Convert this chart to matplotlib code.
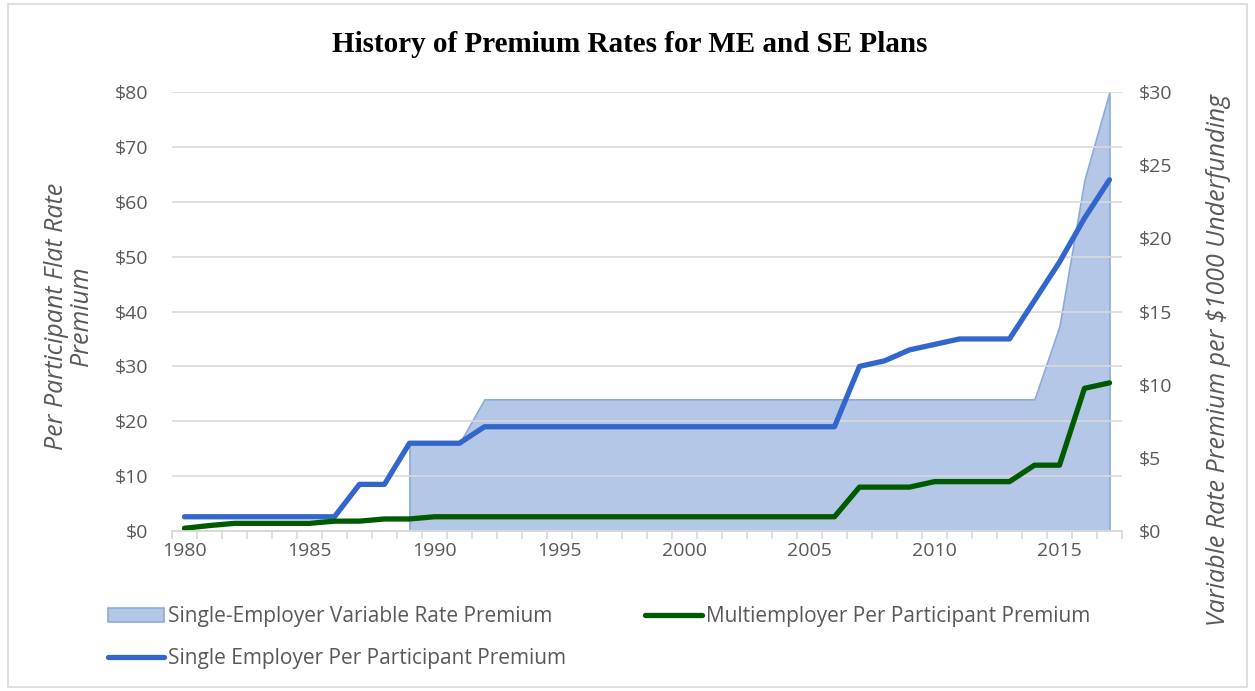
import numpy as np
import matplotlib.pyplot as plt
from matplotlib.patches import Rectangle

years = list(range(1980, 2018))

# single employer flat rate premium per participant ($)
se_flat = [2.6, 2.6, 2.6, 2.6, 2.6, 2.6, 2.6, 8.5, 8.5, 16, 16, 16, 19,
           19, 19, 19, 19, 19, 19, 19, 19, 19, 19, 19, 19, 19, 19,
           30, 31, 33, 34, 35, 35, 35, 42, 49, 57, 64]

# multiemployer flat rate premium per participant ($)
me_flat = [0.5, 1.0, 1.4, 1.4, 1.4, 1.4, 1.8, 1.8, 2.2, 2.2, 2.6, 2.6, 2.6,
           2.6, 2.6, 2.6, 2.6, 2.6, 2.6, 2.6, 2.6, 2.6, 2.6, 2.6, 2.6, 2.6, 2.6,
           8, 8, 8, 9, 9, 9, 9, 12, 12, 26, 27]

# single employer variable rate premium per $1000 underfunding (from 1989)
vrp_years = list(range(1989, 2018))
vrp = [6, 6, 6, 9, 9, 9, 9, 9, 9, 9, 9, 9, 9, 9, 9, 9, 9, 9, 9, 9, 9,
       9, 9, 9, 9, 9, 14, 24, 30]

gray = "#595959"
plt.rcParams["font.family"] = ["Open Sans", "DejaVu Sans"]

fig = plt.figure(figsize=(12.55, 6.91), dpi=100)
ax = fig.add_axes([0.137, 0.2315, 0.757, 0.6354])
ax2 = ax.twinx()

ax2.fill_between(vrp_years, vrp, 0, color="#B4C7E7", edgecolor="#8EA9DB",
                 linewidth=1.2, label="Single-Employer Variable Rate Premium")
ax2.set_ylim(0, 30)
ax2.set_yticks(range(0, 31, 5))
ax2.set_yticklabels(["$%d" % v for v in range(0, 31, 5)])

ax.set_zorder(ax2.get_zorder() + 1)
ax.patch.set_visible(False)
ax.plot(years, se_flat, color="#3366CC", lw=3.8, solid_capstyle="round",
        label="Single Employer Per Participant Premium")
ax.plot(years, me_flat, color="#005A00", lw=3.8, solid_capstyle="round",
        label="Multiemployer Per Participant Premium")
ax.set_ylim(0, 80)
ax.set_yticks(range(0, 81, 10))
ax.set_yticklabels(["$%d" % v for v in range(0, 81, 10)])
ax.yaxis.grid(True, color="#D9D9D9", lw=1.2)
ax.set_axisbelow(True)

ax.set_xlim(1979.5, 2017.5)
ax.set_xticks(range(1980, 2018, 5))
ax.set_xticks(np.arange(1979.5, 2018, 1), minor=True)
ax.tick_params(axis="x", which="major", length=0, pad=8)
ax.tick_params(axis="x", which="minor", length=6, color="#D9D9D9", width=1.2)

for a in (ax, ax2):
    for s in ("top", "left", "right"):
        a.spines[s].set_visible(False)
    a.spines["bottom"].set_color("#D9D9D9")
    a.spines["bottom"].set_linewidth(1.2)
    a.tick_params(axis="x", labelsize=14, colors=gray)
ax.tick_params(axis="y", length=0, labelsize=14, colors=gray, pad=17)
ax2.tick_params(axis="y", length=0, labelsize=14, colors=gray, pad=12)

ax.set_ylabel("Per Participant Flat Rate\nPremium", fontsize=18, color=gray,
              style="italic", linespacing=1.0)
ax.yaxis.set_label_coords(-0.082, 0.49)
ax2.set_ylabel("Variable Rate Premium per \\$1000 Underfunding", fontsize=18,
               color=gray, style="italic")
ax2.yaxis.set_label_coords(1.088, 0.39)

fig.text(0.502, 0.935, "History of Premium Rates for ME and SE Plans",
         ha="center", va="center", fontsize=21, fontweight="bold",
         family="Liberation Serif")

h1, l1 = ax2.get_legend_handles_labels()
h2, l2 = ax.get_legend_handles_labels()
fig.legend(h1 + h2, l1 + l2, loc="upper left", bbox_to_anchor=(0.071, 0.15),
           ncol=2, frameon=False, fontsize=15, labelcolor=gray,
           handlelength=2.7, handletextpad=0.2, columnspacing=3.8,
           labelspacing=1.0)

fig.patches.append(Rectangle((0.006, 0.006), 0.988, 0.988,
                             transform=fig.transFigure, fill=False,
                             edgecolor="#D9D9D9", lw=1.2))

plt.savefig("out.png", dpi=100)
plt.close()
